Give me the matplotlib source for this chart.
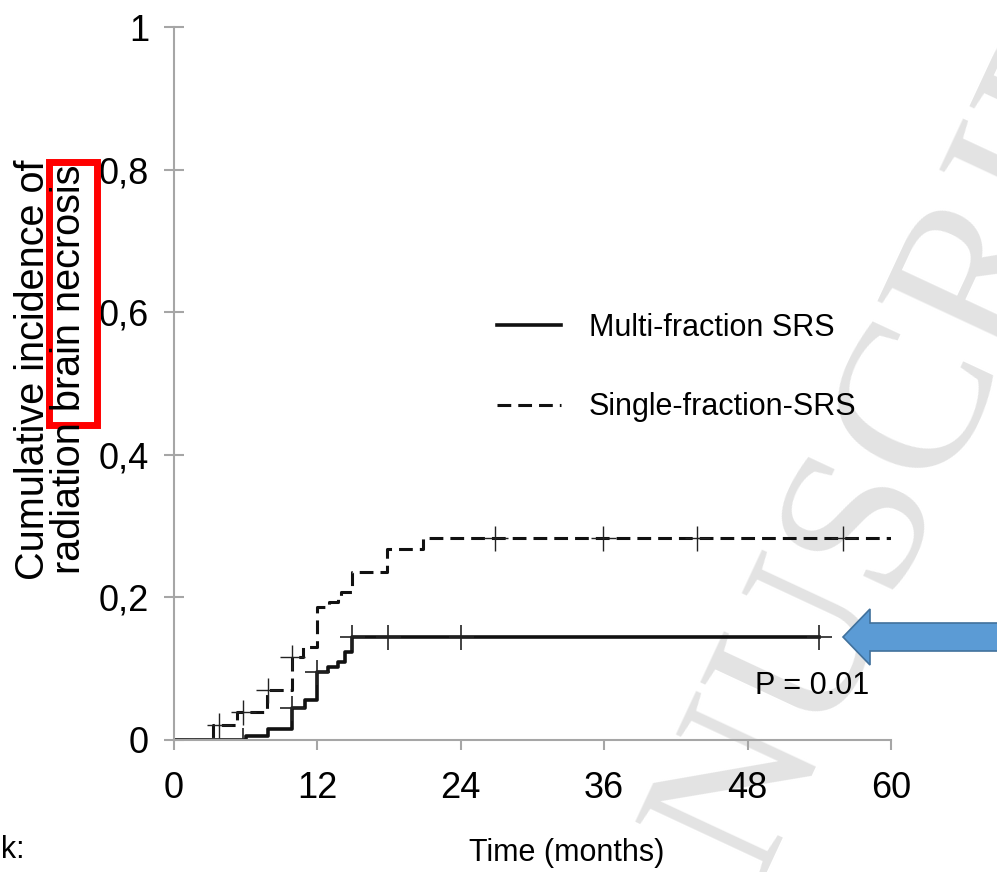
import numpy as np
import matplotlib
matplotlib.use("Agg")
import matplotlib.pyplot as plt
from matplotlib import patches

plt.rcParams['font.family'] = ['Liberation Sans', 'DejaVu Sans']

# step curves (months, cumulative incidence)
multi_t = [0, 6.0, 7.9, 9.9, 11.0, 12.0, 12.9, 13.7, 14.3, 14.9, 54.0]
multi_y = [0, 0.005, 0.015, 0.045, 0.056, 0.095, 0.102, 0.109, 0.123, 0.144, 0.144]
multi_cens = [5.8, 9.9, 12.0, 14.9, 17.9, 24.0, 54.0]

single_t = [0, 3.3, 5.3, 7.8, 9.9, 10.8, 12.0, 13.0, 13.7, 14.0, 14.9, 17.8, 20.8, 60.0]
single_y = [0, 0.021, 0.039, 0.07, 0.116, 0.13, 0.187, 0.194, 0.2, 0.208, 0.236, 0.268, 0.283, 0.283]
single_cens = [3.8, 5.8, 7.9, 9.9, 26.9, 35.9, 43.8, 56.0]

x_ticks = [0, 12, 24, 36, 48, 60]
y_ticks = [0, 0.2, 0.4, 0.6, 0.8, 1]
y_ticklabels = ["0", "0,2", "0,4", "0,6", "0,8", "1"]

labels = ["Multi-fraction SRS", "Single-fraction-SRS"]


def step_value(t, y, at):
    # value of a right-continuous step function at the censoring times
    idx = np.searchsorted(t, at, side='right') - 1
    return np.asarray(y)[idx]


fig = plt.figure(figsize=(9.97, 8.72), dpi=100)
ax = fig.add_axes([0.1745, 0.1514, 0.7192, 0.8176])
ax.set_facecolor('none')

# watermark behind everything
fig.text(0.86, 0.377, "MANUSCRIPT", rotation=65, rotation_mode='anchor',
         ha='center', va='center', fontsize=155, family='Liberation Serif',
         color='#e3e3e3', zorder=-5)

l1, = ax.step(multi_t, multi_y, where='post', color='#111111', lw=2.6)
l2, = ax.step(single_t, single_y, where='post', color='#111111', lw=2.2,
              linestyle=(0, (4.5, 2.3)))

ax.plot(multi_cens, step_value(multi_t, multi_y, multi_cens), ls='none',
        marker='+', ms=18, mew=1.2, color='#222222')
ax.plot(single_cens, step_value(single_t, single_y, single_cens), ls='none',
        marker='+', ms=18, mew=1.0, color='#222222')

ax.set_xlim(0, 60)
ax.set_ylim(0, 1)
ax.set_xticks(x_ticks)
ax.set_xticklabels([str(v) for v in x_ticks])
ax.set_yticks(y_ticks)
ax.set_yticklabels(y_ticklabels)

for s in ['top', 'right']:
    ax.spines[s].set_visible(False)
for s in ['left', 'bottom']:
    ax.spines[s].set_color('#a6a6a6')
    ax.spines[s].set_linewidth(1.5)

ax.tick_params(axis='y', direction='inout', length=14, width=1.5,
               color='#a6a6a6', labelsize=26, pad=11)
ax.tick_params(axis='x', direction='out', length=7, width=1.5,
               color='#a6a6a6', labelsize=26, pad=15)

ax.set_xlabel("Time (months)", fontsize=22)
ax.xaxis.set_label_coords(0.548, -0.137)

fig.text(0.051, 0.576, "Cumulative incidence of\nradiation brain necrosis",
         rotation=90, ha='center', va='center', multialignment='center',
         fontsize=28.5, linespacing=0.95)

# red highlight box
fig.add_artist(patches.Rectangle((0.0487, 0.5131), 0.0481, 0.3016,
                                 transform=fig.transFigure, fill=False,
                                 edgecolor='#ff0000', lw=5))

ax.legend([l1, l2], labels, loc='upper left', bbox_to_anchor=(0.4505, 0.599),
          frameon=False, fontsize=22, handlelength=2.1, handletextpad=0.9,
          labelspacing=1.62, borderpad=0, borderaxespad=0)

ax.text(58.2, 0.076, "P = 0.01", ha='right', va='center', fontsize=22)

fig.text(0.001, 0.025, "k:", ha='left', va='center', fontsize=22)

# blue arrow pointing at the multi-fraction curve end
W, H = 997.0, 872.0
pts = [(843, 637), (870, 609), (870, 623), (1000, 623), (1000, 651),
       (870, 651), (870, 665)]
fig.add_artist(patches.Polygon([(px / W, 1 - py / H) for px, py in pts],
                               closed=True, transform=fig.transFigure,
                               facecolor='#5b9bd5', edgecolor='#41719c', lw=1.2))

fig.savefig("out.png", dpi=100)
